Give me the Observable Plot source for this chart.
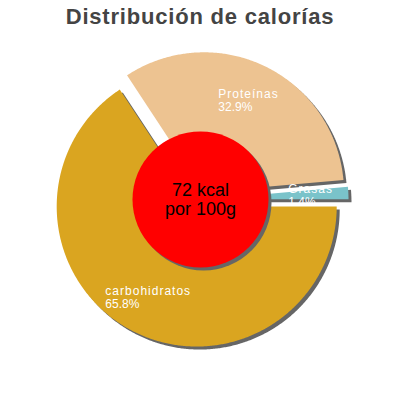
<!DOCTYPE html>
<html><head><meta charset="utf-8">
<script src="https://cdn.jsdelivr.net/npm/d3@7"></script>
<script src="https://cdn.jsdelivr.net/npm/@observablehq/plot@0.6"></script>
<style>
body{margin:0;background:#fff;}
#title{height:40px;box-sizing:border-box;padding-top:6px;text-align:center;font:bold 22px/22px "Liberation Sans",Arial,sans-serif;color:#444;letter-spacing:0.8px;}
</style></head><body>
<div id="title">Distribución de calorías</div>
<div id="chart"></div>
<script>
const categories = ["carbohidratos", "Proteínas", "Grasas"];
const percents = [65.8, 32.9, 1.4];
const colors = ["#DAA520", "#EDC391", "#7AC3CA"];
const energy = "72 kcal";
const basis = "por 100g";

const W = 400, H = 360, R = 140, CX = 200, CY = 159;
const explode = 8 / R, labelR = 0.73, shadow = "#666";
const FONT = "'Liberation Sans', Arial, sans-serif";
const total = d3.sum(percents);
let acc = 0;
const slices = categories.map((c, i) => {
  const a0 = acc / total * 2 * Math.PI; acc += percents[i];
  const a1 = acc / total * 2 * Math.PI;
  return {c, i, a0, a1, mid: (a0 + a1) / 2};
});
function wedge(s) {
  const ox = explode * Math.cos(s.mid), oy = explode * Math.sin(s.mid);
  const n = Math.max(2, Math.ceil((s.a1 - s.a0) / (Math.PI / 360)));
  const pts = [{x: ox, y: oy}];
  for (let k = 0; k <= n; k++) {
    const a = s.a0 + (s.a1 - s.a0) * k / n;
    pts.push({x: ox + Math.cos(a), y: oy + Math.sin(a)});
  }
  pts.push({x: ox, y: oy});
  return pts;
}
const ctx = document.createElement("canvas").getContext("2d");
ctx.font = "12px " + FONT;
const labels = slices.map(s => {
  const name = s.c, pct = percents[s.i].toFixed(1) + "%";
  const w = Math.max(ctx.measureText(name).width + name.length, ctx.measureText(pct).width);
  const bx = (explode + labelR) * Math.cos(s.mid), by = (explode + labelR) * Math.sin(s.mid);
  return {name, pct, x: bx - w / 2 / R, y1: by - 2 / R, y2: by + 11 / R};
});

const marks = [];
slices.forEach(s => {
  const pts = wedge(s);
  marks.push(Plot.line(pts, {x: "x", y: "y", fill: shadow, stroke: "none", dx: 3, dy: 3}));
  marks.push(Plot.line(pts, {x: "x", y: "y", fill: colors[s.i], stroke: "none"}));
});
const center = [{x: 0, y: 0, t: energy + "\n" + basis}];
marks.push(Plot.dot(center, {x: "x", y: "y", r: 68, fill: shadow, stroke: "none", dx: 3, dy: 3}));
marks.push(Plot.dot(center, {x: "x", y: "y", r: 68, fill: "#ff0000", stroke: "none"}));
marks.push(Plot.text(center, {x: "x", y: "y", text: "t", fontSize: 18, lineHeight: 1.05, fill: "black", fontFamily: FONT}));
marks.push(Plot.text(labels, {x: "x", y: "y1", text: "name", textAnchor: "start", lineAnchor: "bottom", fontSize: 12, fill: "white", fontFamily: FONT}));
marks.push(Plot.text(labels, {x: "x", y: "y2", text: "pct", textAnchor: "start", lineAnchor: "bottom", fontSize: 12, fill: "white", fontFamily: FONT}));

const chart = Plot.plot({
  width: W, height: H, margin: 0,
  x: {domain: [-CX / R, (W - CX) / R], range: [0, W], axis: null},
  y: {domain: [-CY / R, (H - CY) / R], range: [0, H], axis: null},
  style: {background: "white", fontFamily: FONT},
  marks
});
d3.select(chart).selectAll("text")
  .filter(function () { return categories.includes(this.textContent); })
  .attr("letter-spacing", 1);
document.getElementById("chart").appendChild(chart);
</script>
</body></html>
